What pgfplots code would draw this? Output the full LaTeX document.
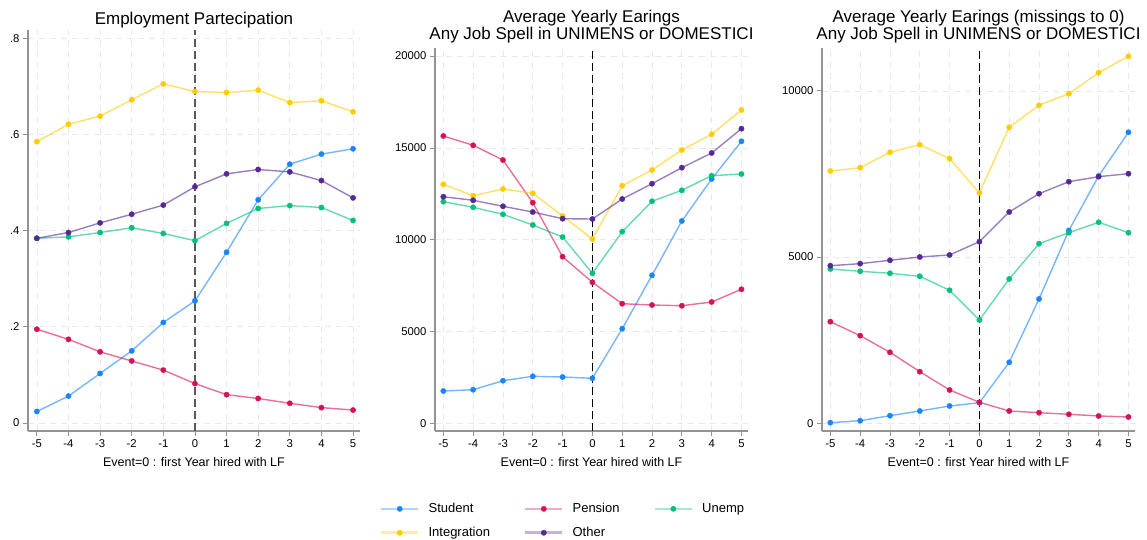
\documentclass[border=0pt]{standalone}
\usepackage{fontspec}
\setmainfont{Liberation Sans}
\usepackage{pgfplots}
\usepackage{pgfplotstable}
\pgfplotsset{compat=1.18}

\definecolor{cStu}{RGB}{26,133,255}
\definecolor{cPen}{RGB}{212,17,89}
\definecolor{cUne}{RGB}{0,191,127}
\definecolor{cInt}{RGB}{255,204,0}
\definecolor{cOth}{RGB}{85,40,150}

\pgfplotstableread{
x stu pen une int oth
-5 0.024 0.195 0.384 0.585 0.384
-4 0.056 0.174 0.387 0.621 0.396
-3 0.103 0.148 0.396 0.638 0.416
-2 0.150 0.129 0.406 0.672 0.434
-1 0.209 0.110 0.394 0.705 0.453
0 0.254 0.082 0.379 0.689 0.491
1 0.355 0.059 0.415 0.687 0.518
2 0.464 0.051 0.446 0.692 0.527
3 0.538 0.041 0.452 0.666 0.522
4 0.559 0.032 0.448 0.670 0.504
5 0.570 0.027 0.421 0.647 0.468
}\tabA

\pgfplotstableread{
x stu pen une int oth
-5 1759 15648 12070 13017 12342
-4 1830 15141 11765 12397 12146
-3 2320 14341 11383 12761 11819
-2 2560 12015 10801 12527 11509
-1 2522 9074 10147 11291 11144
0 2451 7680 8170 10038 11127
1 5152 6514 10436 12941 12217
2 8061 6443 12092 13796 13050
3 11019 6405 12691 14886 13922
4 13306 6607 13486 15741 14722
5 15359 7298 13578 17064 16046
}\tabB

\pgfplotstableread{
x stu pen une int oth
-5 18 3057 4642 7590 4741
-4 78 2636 4573 7690 4802
-3 229 2136 4513 8153 4904
-2 370 1553 4422 8382 5003
-1 520 1002 4001 7961 5063
0 620 632 3108 6928 5464
1 1835 370 4341 8905 6357
2 3739 319 5403 9567 6907
3 5800 271 5734 9916 7268
4 7440 220 6047 10548 7419
5 8754 190 5734 11041 7509
}\tabC

\pgfplotsset{
  panel/.style={
    scale only axis,
    axis x line*=bottom, axis y line*=left,
    axis line style={-, draw=gray!85, line width=1.8pt},
    tick style={draw=gray!85, line width=0.8pt},
    tick align=outside, major tick length=5pt,
    scaled y ticks=false, scaled x ticks=false,
    xmin=-5.28, xmax=5.22,
    xtick={-5,...,5},
    xticklabels={-5,-4,-3,-2,-1,0,1,2,3,4,5},
    ticklabel style={font=\fontsize{11.3}{13}\selectfont},
    grid=major,
    major grid style={draw=gray!18, line width=0.7pt, dash pattern=on 6pt off 5pt},
    xlabel={Event=0 : first Year hired with LF},
    xlabel style={font=\fontsize{12.5}{14}\selectfont, at={(rel axis cs:0.5,0)}, anchor=center, yshift=-31pt},
    title style={font=\fontsize{17}{17}\selectfont, align=center, anchor=south, at={(rel axis cs:0.5,1)}, yshift=-5pt},
    clip=false,
  },
  ser/.style={color=#1, line width=1.4pt, draw opacity=0.6, mark=*, mark size=2.7pt,
    mark options={draw opacity=1, fill opacity=1, fill=#1, draw=#1, line width=0.3pt}},
}

\begin{document}
\begin{tikzpicture}[x=1pt,y=1pt]
\useasboundingbox (0,0) rectangle (1147,-540);

% Panel 1
\begin{axis}[panel, at={(28pt,-431pt)}, anchor=south west,
  width=332pt, height=401pt,
  ymin=-0.0166, ymax=0.817,
  ytick={0,0.2,0.4,0.6,0.8}, yticklabels={0,.2,.4,.6,.8},
  title style={yshift=-3pt},
  title={Employment Partecipation}]
\addplot[forget plot, draw=black!65, line width=1.6pt, dash pattern=on 8pt off 4pt] coordinates {(0,-0.0166) (0,0.817)};
\addplot[ser=cStu] table[x=x,y=stu]{\tabA};
\addplot[ser=cPen] table[x=x,y=pen]{\tabA};
\addplot[ser=cUne] table[x=x,y=une]{\tabA};
\addplot[ser=cInt] table[x=x,y=int]{\tabA};
\addplot[ser=cOth] table[x=x,y=oth]{\tabA};
\end{axis}

% Panel 2
\begin{axis}[panel, at={(435pt,-431pt)}, anchor=south west,
  width=313pt, height=383pt,
  ymin=-419, ymax=20441,
  ytick={0,5000,10000,15000,20000}, yticklabels={0,5000,10000,15000,20000},
  title={Average Yearly Earings\\Any Job Spell in UNIMENS or DOMESTICI},
  legend columns=3,
  legend style={at={(rel axis cs:-0.186,-0.178)}, anchor=north west, draw=none, fill=none,
    font=\fontsize{13}{15}\selectfont, row sep=9pt,
    /tikz/every even column/.append style={column sep=32pt},
    /tikz/every odd column/.append style={column sep=7pt}},
  legend cell align=left,
  legend image code/.code={
    \draw[#1, mark=none, line width=2.6pt, draw opacity=0.35] (0pt,0pt) -- (37pt,0pt);
    \draw[#1, draw opacity=1, only marks] plot coordinates {(18.5pt,0pt)};
  }]
\addplot[forget plot, draw=black, line width=1.6pt, dash pattern=on 8pt off 4pt] coordinates {(0,-419) (0,20441)};
\addplot[ser=cStu] table[x=x,y=stu]{\tabB};
\addlegendentry{Student}
\addplot[ser=cPen] table[x=x,y=pen]{\tabB};
\addlegendentry{Pension}
\addplot[ser=cUne] table[x=x,y=une]{\tabB};
\addlegendentry{Unemp}
\addplot[ser=cInt] table[x=x,y=int]{\tabB};
\addlegendentry{Integration}
\addplot[ser=cOth] table[x=x,y=oth]{\tabB};
\addlegendentry{Other}
\end{axis}

% Panel 3
\begin{axis}[panel, at={(822pt,-431pt)}, anchor=south west,
  width=313pt, height=383pt,
  ymin=-232, ymax=11290,
  ytick={0,5000,10000}, yticklabels={0,5000,10000},
  title={Average Yearly Earings (missings to 0)\\Any Job Spell in UNIMENS or DOMESTICI}]
\addplot[forget plot, draw=black, line width=1.6pt, dash pattern=on 8pt off 4pt] coordinates {(0,-232) (0,11290)};
\addplot[ser=cStu] table[x=x,y=stu]{\tabC};
\addplot[ser=cPen] table[x=x,y=pen]{\tabC};
\addplot[ser=cUne] table[x=x,y=une]{\tabC};
\addplot[ser=cInt] table[x=x,y=int]{\tabC};
\addplot[ser=cOth] table[x=x,y=oth]{\tabC};
\end{axis}
\end{tikzpicture}
\end{document}
